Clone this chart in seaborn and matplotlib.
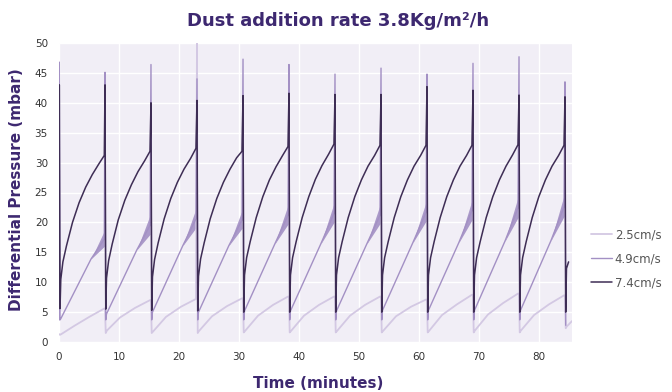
import numpy as np
import pandas as pd
import matplotlib
matplotlib.use("Agg")
import matplotlib.pyplot as plt
import seaborn as sns

# ---- data ----
pulses = [0.05, 7.67, 15.33, 23.0, 30.67, 38.33, 46.0, 53.67, 61.33, 69.0, 76.67, 84.33]

# 7.4 cm/s : value at offsets after each pulse
dark_start = (0.0, 5.6)
dark_offsets = [0.0, 0.12, 0.25, 0.6, 1.2, 2.2, 3.3, 4.4, 5.5, 6.6, 7.5]
dark_cycles = [
    [43.0, 5.6, 10.5, 13.4, 16.1, 20.0, 23.3, 25.9, 28.0, 29.8, 31.2],
    [43.0, 5.5, 10.7, 13.6, 16.4, 20.4, 23.7, 26.3, 28.5, 30.3, 31.9],
    [40.0, 5.3, 10.9, 13.8, 16.6, 20.6, 24.0, 26.7, 28.9, 30.7, 32.4],
    [40.4, 5.2, 11.0, 13.9, 16.6, 20.6, 24.0, 26.7, 28.9, 30.8, 31.9],
    [41.2, 5.0, 11.2, 14.1, 16.8, 20.8, 24.3, 27.1, 29.3, 31.2, 32.7],
    [41.6, 5.0, 11.2, 14.1, 16.8, 20.8, 24.3, 27.2, 29.5, 31.4, 33.1],
    [41.4, 5.0, 11.2, 14.1, 16.8, 20.8, 24.3, 27.1, 29.4, 31.2, 32.9],
    [41.4, 5.0, 11.2, 14.1, 16.8, 20.8, 24.3, 27.1, 29.4, 31.2, 32.9],
    [42.7, 5.0, 11.2, 14.1, 16.8, 20.8, 24.3, 27.1, 29.4, 31.2, 32.9],
    [42.1, 5.0, 11.2, 14.1, 16.8, 20.8, 24.3, 27.1, 29.4, 31.3, 33.0],
    [41.3, 5.0, 11.2, 14.1, 16.8, 20.8, 24.3, 27.1, 29.4, 31.2, 32.9],
    [41.0, 5.0, 12.3, 13.4],
]

# 4.9 cm/s
mid_start = (0.0, 3.7)
mid_offsets = [0.0, 0.12, 0.25, 5.3, 7.5]
mid_cycles = [
    [46.8, 3.7, 3.9, 13.9, 17.2],
    [45.1, 3.7, 4.7, 15.4, 19.5],
    [46.4, 3.7, 5.0, 16.1, 20.6],
    [44.0, 3.7, 5.0, 16.1, 20.4],
    [47.3, 3.7, 5.2, 16.4, 21.2],
    [46.4, 3.7, 5.2, 16.4, 21.5],
    [44.8, 3.7, 5.2, 16.4, 21.2],
    [45.8, 3.7, 5.3, 16.6, 21.7],
    [44.8, 3.7, 5.3, 16.6, 22.0],
    [46.6, 3.7, 5.3, 16.8, 22.4],
    [47.7, 3.7, 5.3, 16.9, 22.6],
    [43.5, 2.8],
]
# noisy band at the end of each 4.9 cycle (low / high edge at cycle end)
band_lo = [16.0, 18.0, 19.1, 19.0, 19.7, 20.0, 19.8, 20.2, 20.4, 20.8, 21.0]
band_hi = [18.6, 21.2, 22.3, 22.0, 22.9, 23.2, 22.9, 23.4, 23.7, 24.2, 24.5]

# 2.5 cm/s
low_offsets = [0.0, 0.12, 0.3, 2.5, 5.0, 7.5]
low_cycles = [
    [1.3, 1.2, 1.3, 2.7, 4.2, 5.6],
    [5.6, 1.5, 1.9, 4.1, 5.7, 7.0],
    [7.0, 1.5, 1.7, 4.2, 5.9, 7.2],
    [51.0, 1.5, 1.8, 4.3, 6.0, 7.3],
    [7.3, 1.6, 1.8, 4.4, 6.2, 7.6],
    [7.6, 1.6, 1.8, 4.4, 6.2, 7.6],
    [7.6, 1.6, 1.8, 4.4, 6.2, 7.6],
    [7.6, 1.6, 1.8, 4.3, 5.9, 7.1],
    [7.1, 1.6, 1.8, 4.5, 6.3, 7.9],
    [7.9, 1.6, 1.9, 4.6, 6.5, 8.1],
    [8.1, 1.6, 1.9, 4.5, 6.3, 7.8],
    [7.8, 2.3, 2.6],
]
low_tail = (85.5, 3.5)

series_names = ["2.5cm/s", "4.9cm/s", "7.4cm/s"]
colors = ["#d3c8e3", "#a390c4", "#3e2d55"]
widths = [1.3, 1.0, 1.1]

x_ticks = [0, 10, 20, 30, 40, 50, 60, 70, 80]
y_ticks = [0, 5, 10, 15, 20, 25, 30, 35, 40, 45, 50]


def build(start, offsets, cycles, tail=None):
    t, v = [], []
    if start is not None:
        t.append(start[0]); v.append(start[1])
    for p, row in zip(pulses, cycles):
        for o, val in zip(offsets, row):
            t.append(p + o); v.append(val)
    if tail is not None:
        t.append(tail[0]); v.append(tail[1])
    return t, v


tl, vl = build(None, low_offsets, low_cycles, low_tail)
tm, vm = build(mid_start, mid_offsets, mid_cycles)
td, vd = build(dark_start, dark_offsets, dark_cycles)

df = pd.concat([
    pd.DataFrame({"t": tl, "v": vl, "s": series_names[0]}),
    pd.DataFrame({"t": tm, "v": vm, "s": series_names[1]}),
    pd.DataFrame({"t": td, "v": vd, "s": series_names[2]}),
], ignore_index=True)

sns.set_theme(style="darkgrid")
plt.rcParams["font.family"] = ["DejaVu Sans"]

fig = plt.figure(figsize=(6.72, 3.92), dpi=100)
ax = fig.add_axes([59 / 672, 1 - 342 / 392, (572 - 59) / 672, (342 - 43) / 392])
ax.set_facecolor("#f1eef6")
ax.grid(True, color="white", linewidth=1.0)

for name, c, w in zip(series_names, colors, widths):
    sub = df[df["s"] == name]
    sns.lineplot(data=sub, x="t", y="v", sort=False, estimator=None, ax=ax,
                 color=c, linewidth=w, label=name)

# noisy band of the 4.9 series
for k in range(len(band_lo)):
    p = pulses[k]
    m = mid_cycles[k][3]
    ax.fill_between([p + mid_offsets[3], p + mid_offsets[4]], [m, band_lo[k]], [m, band_hi[k]],
                    color=colors[1], linewidth=0, alpha=0.9)

ax.set_xlim(0, 85.5)
ax.set_ylim(0, 50)
ax.set_xticks(x_ticks)
ax.set_yticks(y_ticks)
ax.tick_params(axis="both", length=0, labelsize=7.5, labelcolor="#333333")
ax.tick_params(axis="x", pad=7)
ax.tick_params(axis="y", pad=8)
ax.set_xlabel("")
ax.set_ylabel("")
for s in ax.spines.values():
    s.set_visible(False)

title_c = "#3d2870"
fig.text(0.503, 0.946, "Dust addition rate 3.8Kg/m²/h", ha="center", va="center",
         fontsize=13, fontweight="bold", color=title_c)
fig.text(17 / 672, 0.515, "Differential Pressure (mbar)", ha="center", va="center",
         rotation=90, fontsize=11, fontweight="bold", color=title_c)
fig.text(318 / 672, 1 - 383 / 392, "Time (minutes)", ha="center", va="center",
         fontsize=11, fontweight="bold", color=title_c)

leg = ax.legend(loc="center left", bbox_to_anchor=(1.028, 0.278), frameon=False,
                fontsize=8.5, handlelength=1.75, handletextpad=0.25, labelspacing=0.95,
                borderaxespad=0.0)
for txt in leg.get_texts():
    txt.set_color("#555555")

fig.savefig("out.png", dpi=100)
